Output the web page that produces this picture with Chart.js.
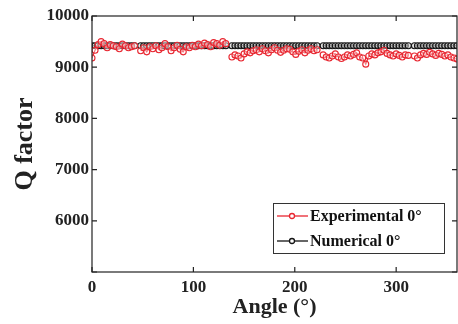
<!DOCTYPE html>
<html>
<head>
<meta charset="utf-8">
<script src="https://cdn.jsdelivr.net/npm/chart.js@4.4.1/dist/chart.umd.min.js"></script>
<style>
  html, body { margin: 0; padding: 0; background: #fff; }
  #wrap { width: 458px; height: 324px; }
</style>
</head>
<body>
<div id="wrap"><canvas id="chart" width="458" height="324"></canvas></div>
<script>
// angle samples (deg); null rows at 45/135/225/315 break the lines
const angles = [
  0, 3, 6, 9, 12, 15, 18, 21, 24, 27, 30, 33, 36, 39, 42,
  45,
  48, 51, 54, 57, 60, 63, 66, 69, 72, 75, 78, 81, 84, 87, 90, 93, 96, 99, 102, 105, 108, 111, 114, 117, 120, 123, 126, 129, 132,
  135,
  138, 141, 144, 147, 150, 153, 156, 159, 162, 165, 168, 171, 174, 177, 180, 183, 186, 189, 192, 195, 198, 201, 204, 207, 210, 213, 216, 219, 222,
  225,
  228, 231, 234, 237, 240, 243, 246, 249, 252, 255, 258, 261, 264, 267, 270, 273, 276, 279, 282, 285, 288, 291, 294, 297, 300, 303, 306, 309, 312,
  315,
  318, 321, 324, 327, 330, 333, 336, 339, 342, 345, 348, 351, 354, 357, 360
];

const experimental = [
  9180, 9330, 9440, 9500, 9460, 9380, 9440, 9420, 9400, 9360, 9450, 9420, 9380, 9400, 9420,
  null,
  9320, 9380, 9300, 9400, 9360, 9420, 9340, 9380, 9460, 9400, 9320, 9380, 9430, 9350, 9300, 9400, 9380, 9430, 9400, 9450, 9420, 9470, 9440, 9400, 9480, 9460, 9430, 9500, 9460,
  null,
  9200, 9240, 9220, 9180, 9260, 9300, 9280, 9320, 9340, 9300, 9360, 9320, 9280, 9340, 9380, 9330, 9290, 9330, 9360, 9350, 9300, 9250, 9310, 9340, 9280, 9330, 9360, 9320, 9340,
  null,
  9240, 9200, 9180, 9220, 9260, 9200, 9170, 9200, 9240, 9220, 9250, 9280, 9200, 9180, 9060, 9220, 9260, 9240, 9280, 9300, 9330, 9270, 9240, 9220, 9260, 9230, 9200, 9240, 9230,
  null,
  9220, 9180, 9240, 9270, 9250, 9290, 9260, 9230, 9270, 9250, 9220, 9240, 9200, 9180, 9160
];

const numerical = [
  9420, 9420, 9420, 9420, 9420, 9420, 9420, 9420, 9420, 9420, 9420, 9420, 9420, 9420, 9420,
  null,
  9420, 9420, 9420, 9420, 9420, 9420, 9420, 9420, 9420, 9420, 9420, 9420, 9420, 9420, 9420, 9420, 9420, 9420, 9420, 9420, 9420, 9420, 9420, 9420, 9420, 9420, 9420, 9420, 9420,
  null,
  9420, 9420, 9420, 9420, 9420, 9420, 9420, 9420, 9420, 9420, 9420, 9420, 9420, 9420, 9420, 9420, 9420, 9420, 9420, 9420, 9420, 9420, 9420, 9420, 9420, 9420, 9420, 9420, 9420,
  null,
  9420, 9420, 9420, 9420, 9420, 9420, 9420, 9420, 9420, 9420, 9420, 9420, 9420, 9420, 9420, 9420, 9420, 9420, 9420, 9420, 9420, 9420, 9420, 9420, 9420, 9420, 9420, 9420, 9420,
  null,
  9420, 9420, 9420, 9420, 9420, 9420, 9420, 9420, 9420, 9420, 9420, 9420, 9420, 9420, 9420
];

const xTicks = [0, 100, 200, 300];
const yTicks = [5000, 6000, 7000, 8000, 9000, 10000];
const seriesLabels = ['Experimental 0\u00b0', 'Numerical 0\u00b0'];

const RED = 'rgb(232, 38, 48)';
const BLACK = 'rgb(20, 20, 20)';
const SERIF = "'Liberation Serif', 'DejaVu Serif', serif";

function pts(vals) {
  return angles.map(function (a, i) { return { x: a, y: vals[i] }; });
}

// box around the plot, inward ticks and the boxed legend
const frame = {
  id: 'frame',
  afterDatasetsDraw(chart) {
    const ctx = chart.ctx;
    const a = chart.chartArea;
    const xs = chart.scales.x, ys = chart.scales.y;
    ctx.save();
    ctx.strokeStyle = '#222';
    ctx.lineWidth = 1.2;
    ctx.strokeRect(a.left, a.top, a.right - a.left, a.bottom - a.top);
    ctx.beginPath();
    xTicks.forEach(function (v) {
      const px = xs.getPixelForValue(v);
      ctx.moveTo(px, a.bottom); ctx.lineTo(px, a.bottom - 5);
      ctx.moveTo(px, a.top); ctx.lineTo(px, a.top + 5);
    });
    yTicks.forEach(function (v) {
      const py = ys.getPixelForValue(v);
      ctx.moveTo(a.left, py); ctx.lineTo(a.left + 5, py);
      ctx.moveTo(a.right, py); ctx.lineTo(a.right - 5, py);
    });
    ctx.stroke();
    ctx.restore();
  },
  afterDraw(chart) {
    const ctx = chart.ctx;
    const bx = 273, by = 203, bw = 171, bh = 50;
    ctx.save();
    ctx.fillStyle = '#fff';
    ctx.fillRect(bx, by, bw, bh);
    ctx.strokeStyle = '#333';
    ctx.lineWidth = 1;
    ctx.strokeRect(bx + 0.5, by + 0.5, bw, bh);
    chart.data.datasets.forEach(function (ds, i) {
      const cy = by + 13 + i * 25;
      ctx.strokeStyle = ds.borderColor;
      ctx.lineWidth = 1.3;
      ctx.beginPath();
      ctx.moveTo(bx + 4, cy); ctx.lineTo(bx + 35, cy);
      ctx.stroke();
      ctx.beginPath();
      ctx.arc(bx + 19, cy, 2.5, 0, Math.PI * 2);
      ctx.fillStyle = '#fff';
      ctx.fill();
      ctx.stroke();
      ctx.fillStyle = '#111';
      ctx.font = 'bold 16px ' + SERIF;
      ctx.textBaseline = 'middle';
      ctx.fillText(seriesLabels[i], bx + 37, cy + 1);
    });
    ctx.restore();
  }
};

new Chart(document.getElementById('chart'), {
  type: 'line',
  data: {
    datasets: [
      {
        label: seriesLabels[0],
        data: pts(experimental),
        borderColor: RED,
        borderWidth: 1.2,
        pointRadius: 3,
        pointBorderWidth: 1.1,
        pointBackgroundColor: 'rgba(255,255,255,0.4)',
        pointBorderColor: RED,
        spanGaps: false
      },
      {
        label: seriesLabels[1],
        data: pts(numerical),
        borderColor: BLACK,
        borderWidth: 1.2,
        pointRadius: 3,
        pointBorderWidth: 1.1,
        pointBackgroundColor: 'rgba(200,200,200,0.5)',
        pointBorderColor: BLACK,
        spanGaps: false
      }
    ]
  },
  options: {
    responsive: false,
    animation: false,
    layout: { autoPadding: false, padding: { top: 16, right: 1, left: 0, bottom: 0 } },
    plugins: {
      legend: { display: false },
      tooltip: { enabled: false }
    },
    scales: {
      x: {
        type: 'linear',
        min: 0,
        max: 360,
        afterBuildTicks: function (s) { s.ticks = xTicks.map(function (v) { return { value: v }; }); },
        afterFit: function (s) { s.height = 52; s.paddingRight = 0; s.paddingLeft = 0; },
        grid: { display: false, drawTicks: false },
        border: { display: false },
        ticks: {
          padding: 5,
          color: '#222',
          maxRotation: 0,
          font: { family: SERIF, size: 17, weight: 'bold' }
        },
        title: {
          display: true,
          text: 'Angle (\u00b0)',
          color: '#222',
          padding: { top: 0, bottom: 3 },
          font: { family: SERIF, size: 22, weight: 'bold' }
        }
      },
      y: {
        min: 5000,
        max: 10000,
        afterBuildTicks: function (s) { s.ticks = yTicks.map(function (v) { return { value: v }; }); },
        afterFit: function (s) { s.width = 92; },
        grid: { display: false, drawTicks: false },
        border: { display: false },
        ticks: {
          padding: 3,
          color: '#222',
          font: { family: SERIF, size: 17, weight: 'bold' },
          callback: function (v) { return v === 5000 ? '' : String(v); }
        },
        title: {
          display: true,
          text: 'Q factor',
          color: '#222',
          padding: { top: 10, bottom: 0 },
          font: { family: SERIF, size: 26, weight: 'bold' }
        }
      }
    }
  },
  plugins: [frame]
});
</script>
</body>
</html>
